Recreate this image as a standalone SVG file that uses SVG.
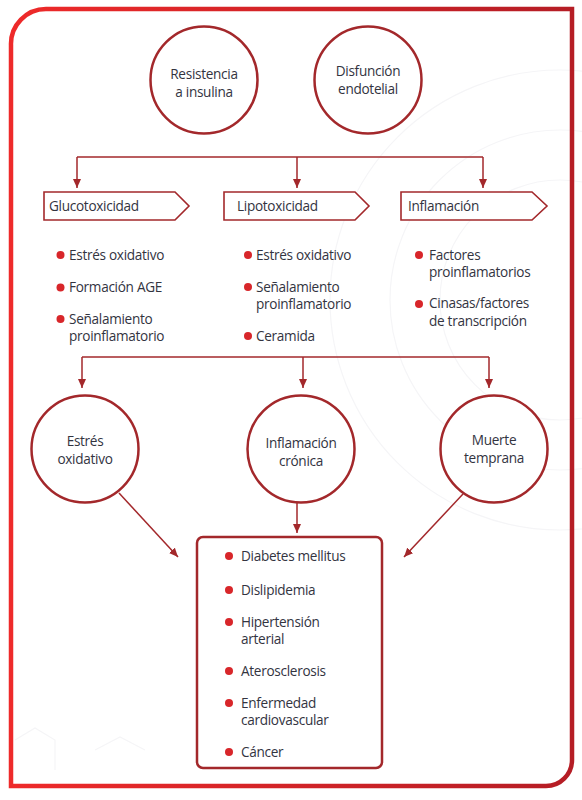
<svg xmlns="http://www.w3.org/2000/svg" width="582" height="800" viewBox="0 0 582 800">
<defs>
<linearGradient id="frameGrad" x1="0" y1="0" x2="1" y2="0">
<stop offset="0" stop-color="#ee2a2a"/>
<stop offset="1" stop-color="#b51d25"/>
</linearGradient>
<marker id="arr" markerWidth="10" markerHeight="8" refX="9" refY="4" orient="auto" markerUnits="userSpaceOnUse">
<path d="M0,0 L9,4 L0,8 Z" fill="#a3282b"/>
</marker>
<style>
.circ{fill:#fff;stroke:#a3282b;stroke-width:2.5}
.box{fill:#fff;stroke:#a3282b;stroke-width:1.6}
.res{fill:#fff;stroke:#a3282b;stroke-width:2.5}
.t{font-family:"Open Sans","Noto Sans",sans-serif;font-size:13.6px;fill:#33343f;letter-spacing:-0.3px}
.tc{text-anchor:middle}
.dot{fill:#d8262a}
.con{fill:none;stroke:#a3282b;stroke-width:1.5}
.bg{fill:none;stroke:#f5f5f7;stroke-width:1.2}
</style>
</defs>
<rect width="582" height="800" fill="#fff"/>
<g id="background">
<circle class="bg" cx="560" cy="300" r="120"/>
<circle class="bg" cx="560" cy="300" r="170"/>
<circle class="bg" cx="560" cy="300" r="230"/>
<path class="bg" d="M15,740 L35,728 L55,740 L55,770 M95,750 L120,737 L145,750" stroke-width="4"/>
</g>
<path id="frame" d="M11,786 V45 A35,35 0 0 1 46,9 H572 V760 A26,26 0 0 1 546,786 Z" fill="none" stroke="url(#frameGrad)" stroke-width="4.5"/>

<g id="connectors">
<path class="con" d="M77,157 H483"/>
<path class="con" d="M77,157 V188" marker-end="url(#arr)"/>
<path class="con" d="M297,157 V188" marker-end="url(#arr)"/>
<path class="con" d="M483,157 V188" marker-end="url(#arr)"/>
<path class="con" d="M82,357 H489"/>
<path class="con" d="M82,357 V388" marker-end="url(#arr)"/>
<path class="con" d="M303,357 V388" marker-end="url(#arr)"/>
<path class="con" d="M489,357 V388" marker-end="url(#arr)"/>
<path class="con" d="M119,493 L178,557" marker-end="url(#arr)"/>
<path class="con" d="M297,503 V533" marker-end="url(#arr)"/>
<path class="con" d="M463,494 L404,557" marker-end="url(#arr)"/>
</g>

<g id="resistencia">
<circle class="circ" cx="204" cy="80" r="53.5"/>
<text class="t tc" x="204" y="79">Resistencia</text>
<text class="t tc" x="204" y="97">a insulina</text>
</g>
<g id="disfuncion">
<circle class="circ" cx="368" cy="80" r="53.5"/>
<text class="t tc" x="368" y="76">Disfunción</text>
<text class="t tc" x="368" y="94">endotelial</text>
</g>

<g id="glucotoxicidad">
<polygon class="box" points="44,192 175,192 189,206 175,220 44,220"/>
<text class="t" x="49" y="211">Glucotoxicidad</text>
<circle class="dot" cx="60.5" cy="255" r="4"/>
<text class="t" x="69" y="260">Estrés oxidativo</text>
<circle class="dot" cx="60.5" cy="287.5" r="4"/>
<text class="t" x="69" y="292">Formación AGE</text>
<circle class="dot" cx="60.5" cy="319" r="4"/>
<text class="t" x="69" y="323.5">Señalamiento</text>
<text class="t" x="69" y="341">proinflamatorio</text>
</g>

<g id="lipotoxicidad">
<polygon class="box" points="224,192 355,192 369,206 355,220 224,220"/>
<text class="t" x="237" y="211">Lipotoxicidad</text>
<circle class="dot" cx="248" cy="255" r="4"/>
<text class="t" x="256" y="260">Estrés oxidativo</text>
<circle class="dot" cx="248" cy="287" r="4"/>
<text class="t" x="256" y="291.5">Señalamiento</text>
<text class="t" x="256" y="309">proinflamatorio</text>
<circle class="dot" cx="248" cy="336" r="4"/>
<text class="t" x="256" y="341">Ceramida</text>
</g>

<g id="inflamacion">
<polygon class="box" points="401,192 532,192 547,206 532,220 401,220"/>
<text class="t" x="408" y="211">Inflamación</text>
<circle class="dot" cx="419" cy="255" r="4"/>
<text class="t" x="429" y="259.5">Factores</text>
<text class="t" x="429" y="277">proinflamatorios</text>
<circle class="dot" cx="419" cy="304" r="4"/>
<text class="t" x="429" y="308">Cinasas/factores</text>
<text class="t" x="429" y="325.5">de transcripción</text>
</g>

<g id="estres">
<circle class="circ" cx="85" cy="449" r="53.5"/>
<text class="t tc" x="85" y="446">Estrés</text>
<text class="t tc" x="85" y="464">oxidativo</text>
</g>
<g id="inflamacion-cronica">
<circle class="circ" cx="301" cy="449" r="53.5"/>
<text class="t tc" x="301" y="448">Inflamación</text>
<text class="t tc" x="301" y="466">crónica</text>
</g>
<g id="muerte">
<circle class="circ" cx="494" cy="449" r="53.5"/>
<text class="t tc" x="494" y="445">Muerte</text>
<text class="t tc" x="494" y="463">temprana</text>
</g>

<g id="resultados">
<rect class="res" x="197" y="537" width="185" height="231" rx="6"/>
<circle class="dot" cx="229" cy="556" r="4"/>
<text class="t" x="241" y="561">Diabetes mellitus</text>
<circle class="dot" cx="229" cy="590" r="4"/>
<text class="t" x="241" y="595">Dislipidemia</text>
<circle class="dot" cx="229" cy="622" r="4"/>
<text class="t" x="241" y="626.5">Hipertensión</text>
<text class="t" x="241" y="644">arterial</text>
<circle class="dot" cx="229" cy="671" r="4"/>
<text class="t" x="241" y="676">Aterosclerosis</text>
<circle class="dot" cx="229" cy="703" r="4"/>
<text class="t" x="241" y="707.5">Enfermedad</text>
<text class="t" x="241" y="725">cardiovascular</text>
<circle class="dot" cx="229" cy="752" r="4"/>
<text class="t" x="241" y="757">Cáncer</text>
</g>
</svg>
